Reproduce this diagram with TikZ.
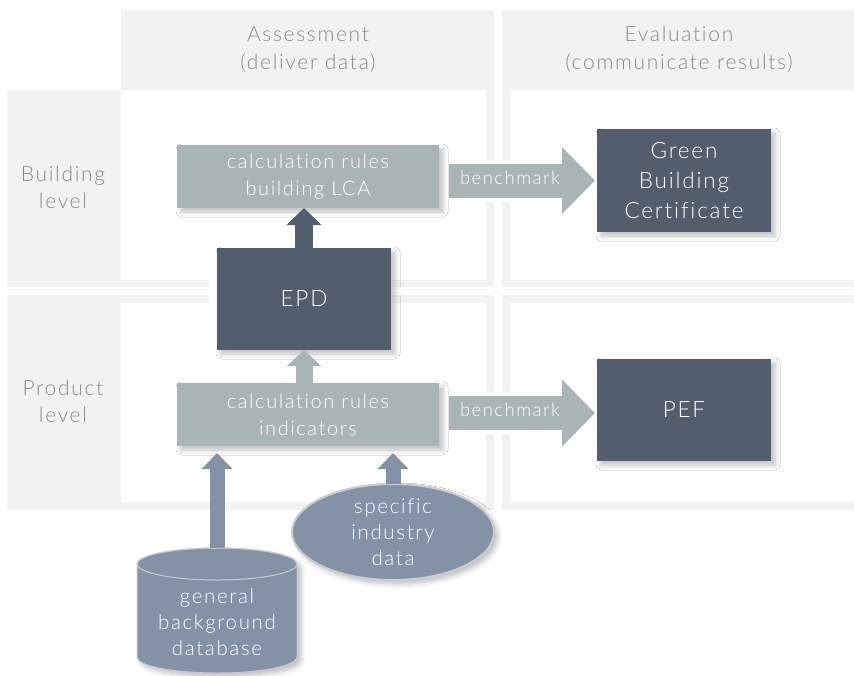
\documentclass[tikz,border=0pt]{standalone}
\usepackage{fontspec}
\setmainfont{Lato Light}[LetterSpace=8, Ligatures={NoCommon}]
\usetikzlibrary{shapes.geometric,arrows.meta,calc,shadows.blur}
\definecolor{panel}{HTML}{F2F2F2}
\definecolor{calcc}{HTML}{A9B5B4}
\definecolor{darkc}{HTML}{525E6D}
\definecolor{bluec}{HTML}{8492A7}
\definecolor{headc}{HTML}{8A8A8A}
\definecolor{rimc}{HTML}{C9CCD0}
\begin{document}
\begin{tikzpicture}[x=1pt,y=-1pt,
  every node/.style={inner sep=0pt, outer sep=0pt},
  softshadow/.style={blur shadow={shadow xshift=4pt, shadow yshift=-4pt, shadow blur radius=5pt, shadow opacity=25}},
  calcbox/.style={fill=calcc, text=white, minimum width=262pt, minimum height=63pt, align=center,
    font=\fontsize{20}{27}\selectfont, softshadow},
  darkbox/.style={fill=darkc, text=white, minimum width=174pt, align=center,
    font=\fontsize{22.5}{30}\selectfont, softshadow},
  headtext/.style={text=headc, align=center, font=\fontsize{21}{28}\selectfont},
  rowtext/.style={text=headc, align=center, font=\fontsize{21}{27}\selectfont},
  bluetext/.style={text=white, align=center, font=\fontsize{20.5}{26}\selectfont},
  benchtext/.style={text=white, font=\fontsize{18.5}{20}\selectfont},
  darkarrow/.style={darkc, line width=18pt, -{Triangle[length=17pt,width=34pt]}},
  lightarrow/.style={calcc, line width=17pt, -{Triangle[length=16pt,width=33pt]}},
  bluearrow/.style={bluec, line width=15pt, -{Triangle[length=16pt,width=30pt]}},
  bencharrow/.style={calcc, line width=34pt, -{Triangle[length=33pt,width=65pt]}},
  halo/.style={white, line width=42pt}
]
\useasboundingbox (0,0) rectangle (854,675);
% panels
\fill[panel] (121,10) rectangle (494,90);
\fill[panel] (7,90) rectangle (494,287);
\fill[white] (121,90) rectangle (486,280);
\fill[panel] (502,10) rectangle (854,287);
\fill[white] (510,90) rectangle (854,280);
\fill[panel] (7,295) rectangle (494,510);
\fill[white] (121,303) rectangle (486,502);
\fill[panel] (502,295) rectangle (854,510);
\fill[white] (510,303) rectangle (854,502);

% headers
\node[headtext] (hA) at (308,49) {Assessment\\(deliver data)};
\node[headtext] (hE) at (679,49) {Evaluation\\(communicate results)};
\node[rowtext] (rB) at (63,187) {Building\\level};
\node[rowtext] (rP) at (63,401) {Product\\level};

% nodes
\node[calcbox] (calcB) at (308,176.5) {calculation rules\\building LCA};
\node[calcbox] (calcI) at (308,414.5) {calculation rules\\indicators};
\node[darkbox, minimum height=103pt] (gbc) at (684,180.5) {Green\\Building\\Certificate};
\node[darkbox, minimum height=102pt] (pef) at (684,410) {PEF};
\node[minimum width=174pt, minimum height=102pt] (epdpos) at (304,299) {};
\fill[white] ($(epdpos.south west)+(-8,8)$) rectangle ($(epdpos.north east)+(2,-8)$);
\node[darkbox, minimum height=102pt] (epd) at (304,299) {EPD};

\node[ellipse, fill=bluec, draw=rimc, line width=2pt, minimum width=202pt, minimum height=96pt,
  bluetext, softshadow] (sid) at (393,532) {specific\\industry\\data};

% database cylinder
\node[minimum width=160pt, minimum height=125pt] (db) at (217,610.5) {};
\path[fill=bluec, draw=rimc, line width=1pt, softshadow]
  ([yshift=-16pt]db.north west) -- ([yshift=16pt]db.south west)
  arc[start angle=180, end angle=360, x radius=80pt, y radius=16pt]
  -- ([yshift=-16pt]db.north east)
  arc[start angle=0, end angle=180, x radius=80pt, y radius=16pt] -- cycle;
\draw[rimc, line width=1pt] ([yshift=-16pt]db.north) ellipse[x radius=80pt, y radius=16pt];
\node[bluetext] (dbt) at ($(db.center)+(0,11.5)$) {general\\background\\database};

% arrows
\draw[darkarrow] (epd.north) -- (epd.north |- calcB.south);
\draw[lightarrow] (calcI.north -| epd.south) -- (epd.south);
\draw[bluearrow] (db.north) -- ($(db.north |- calcI.south)+(0,7)$);
\draw[bluearrow] (sid.north) -- ($(sid.north |- calcI.south)+(0,7)$);

\coordinate (b1s) at ($(calcB.east |- gbc.west)+(10,0)$);
\draw[halo] (b1s) -- ($(gbc.west)+(-35,0)$);
\draw[bencharrow] (b1s) -- ($(gbc.west)+(-2,0)$)
  node[pos=0, anchor=west, xshift=11pt, yshift=3pt, benchtext] {benchmark};

\coordinate (b2s) at ($(calcI.east)+(10,-1.5)$);
\draw[halo] (b2s) -- ($(pef.west |- b2s)+(-35,0)$);
\draw[bencharrow] (b2s) -- ($(pef.west |- b2s)+(-2,0)$)
  node[pos=0, anchor=west, xshift=11pt, yshift=3pt, benchtext] {benchmark};
\end{tikzpicture}
\end{document}
